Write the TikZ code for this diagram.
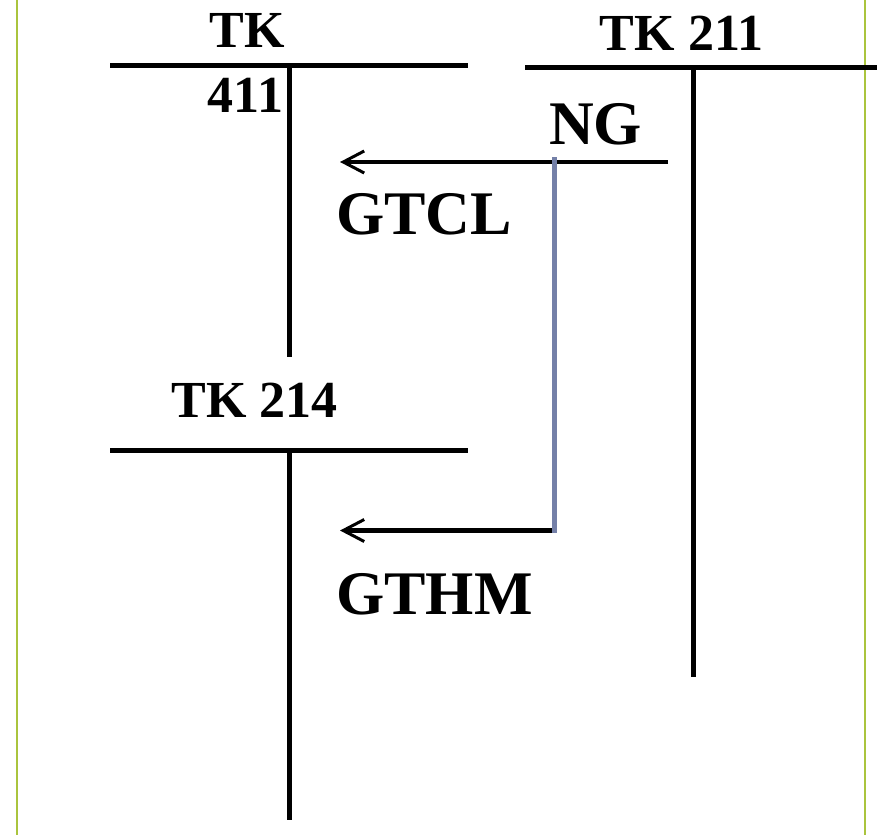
\documentclass[tikz,border=0pt]{standalone}
\usepackage{fontspec}
\setmainfont{Liberation Serif}
\usetikzlibrary{arrows.meta}
\definecolor{framegreen}{RGB}{170,196,62}
\definecolor{linkblue}{RGB}{116,128,168}
\begin{document}
\begin{tikzpicture}[x=1pt,y=-1pt,
  frame/.style={line width=2pt, draw=framegreen},
  tline/.style={line width=5pt},
  lbl/.style={inner sep=0pt, font=\bfseries\fontsize{52}{60}\selectfont},
  big/.style={inner sep=0pt, font=\bfseries\fontsize{62}{70}\selectfont},
  flow/.style={line width=4.5pt, -{Straight Barb[length=21pt,width=22pt,line width=3pt]}},
  link/.style={line width=5pt, draw=linkblue}]
\useasboundingbox (0,0) rectangle (877,835);
% frame
\coordinate (fLt) at (17,0);   \coordinate (fLb) at (17,835);
\coordinate (fRt) at (864.5,0); \coordinate (fRb) at (864.5,835);
\draw[frame] (fLt) -- (fLb);
\draw[frame] (fRt) -- (fRb);
% account coordinates
\coordinate (a411L) at (110,65);  \coordinate (a411R) at (468,65);
\coordinate (a411T) at (289,65);  \coordinate (a411B) at (289,357);
\coordinate (a211L) at (525,67);  \coordinate (a211R) at (877,67);
\coordinate (a211T) at (693,67);  \coordinate (a211B) at (693,677);
\coordinate (a214L) at (110,450); \coordinate (a214R) at (468,450);
\coordinate (a214T) at (289,450); \coordinate (a214B) at (289,820);
% T accounts
\draw[tline] (a411L) -- (a411R);
\draw[tline] (a411T) -- (a411B);
\draw[tline] (a211L) -- (a211R);
\draw[tline] (a211T) -- (a211B);
\draw[tline] (a214L) -- (a214R);
\draw[tline] (a214T) -- (a214B);
% labels
\node[lbl, anchor=base] (tk411a) at (247,47) {TK};
\node[lbl, anchor=base] (tk411b) at (245.5,112) {411};
\node[lbl, anchor=base] (tk211) at (681.5,50) {TK 211};
\node[lbl, anchor=base] (tk214) at (254.5,417) {TK 214};
\node[big, anchor=base west] (ng) at (549,144) {NG};
\node[big, anchor=base west] (gtcl) at (336,234) {GTCL};
\node[big, anchor=base west] (gthm) at (336,614) {GTHM};
% flows
\coordinate (f1s) at (668,162); \coordinate (f1e) at (340,162);
\coordinate (f2s) at (554,530.5); \coordinate (f2e) at (340,530.5);
\coordinate (bt) at (554,157); \coordinate (bb) at (554,533);
\draw[flow] (f1s) -- (f1e);
\draw[flow] (f2s) -- (f2e);
\draw[link] (bt) -- (bb);
\end{tikzpicture}
\end{document}
